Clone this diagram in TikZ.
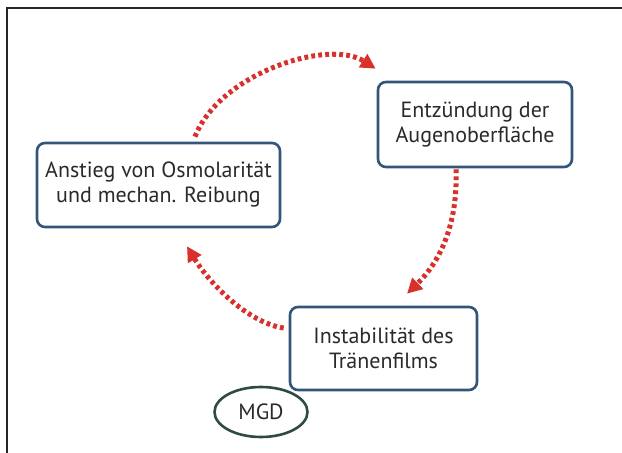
\documentclass[tikz,border=0pt]{standalone}
\usepackage{fontspec}
\setmainfont{PT Sans}
\usetikzlibrary{arrows.meta,calc,shapes.geometric}
\definecolor{boxblue}{HTML}{34557A}
\definecolor{txtgray}{HTML}{2A2A2A}
\definecolor{cycred}{HTML}{D8302B}
\definecolor{mgdgreen}{HTML}{2F4A43}
\newcommand{\CycTip}{Triangle[length=15,width=15]}
\tikzset{stagebox/.style={draw=boxblue,line width=2.6pt,rounded corners=8pt,inner sep=0pt,align=center,text=txtgray,font=\fontsize{22}{25}\selectfont}}
\tikzset{cycarrow/.style={draw=cycred,line width=5pt,dash pattern=on 3.8pt off 3.2pt,-{\CycTip}}}
\begin{document}
\begin{tikzpicture}[x=1pt,y=1pt]
\useasboundingbox(0,0)rectangle(622,453);
\draw[line width=1.6pt,black!85](7,0)--(7,445)--(622,445);
\node[stagebox,minimum width=243,minimum height=84](osmo)at(158.5,268){Anstieg von Osmolarität\\und mechan. Reibung};
\node[stagebox,minimum width=194,minimum height=85](entz)at(475,328.5){Entzündung der\\Augenoberfläche};
\node[stagebox,minimum width=187,minimum height=83](inst)at(383.5,104.5){Instabilität des\\Tränenfilms};
\node[ellipse,draw=mgdgreen,line width=2.6pt,minimum width=93,minimum height=50,inner sep=0pt,text=txtgray,font=\fontsize{22}{25}\selectfont](mgd)at(261,41){MGD};
% the cycle
\draw[cycarrow]($(osmo.north)+(36.5,5)$)..controls+(25,64)and+(-47,30)..($(entz.north west)+(-1,12)$);
\draw[cycarrow]($(entz.south)+(-19,-1)$)..controls+(2,-55)and+(33,32)..($(inst.north)+(23.5,12)$);
\draw[cycarrow]($(inst.west)+(-5,20.5)$)..controls+(-35,5)and+(23,-38)..($(osmo.south)+(28.5,-18)$);
\end{tikzpicture}
\end{document}
